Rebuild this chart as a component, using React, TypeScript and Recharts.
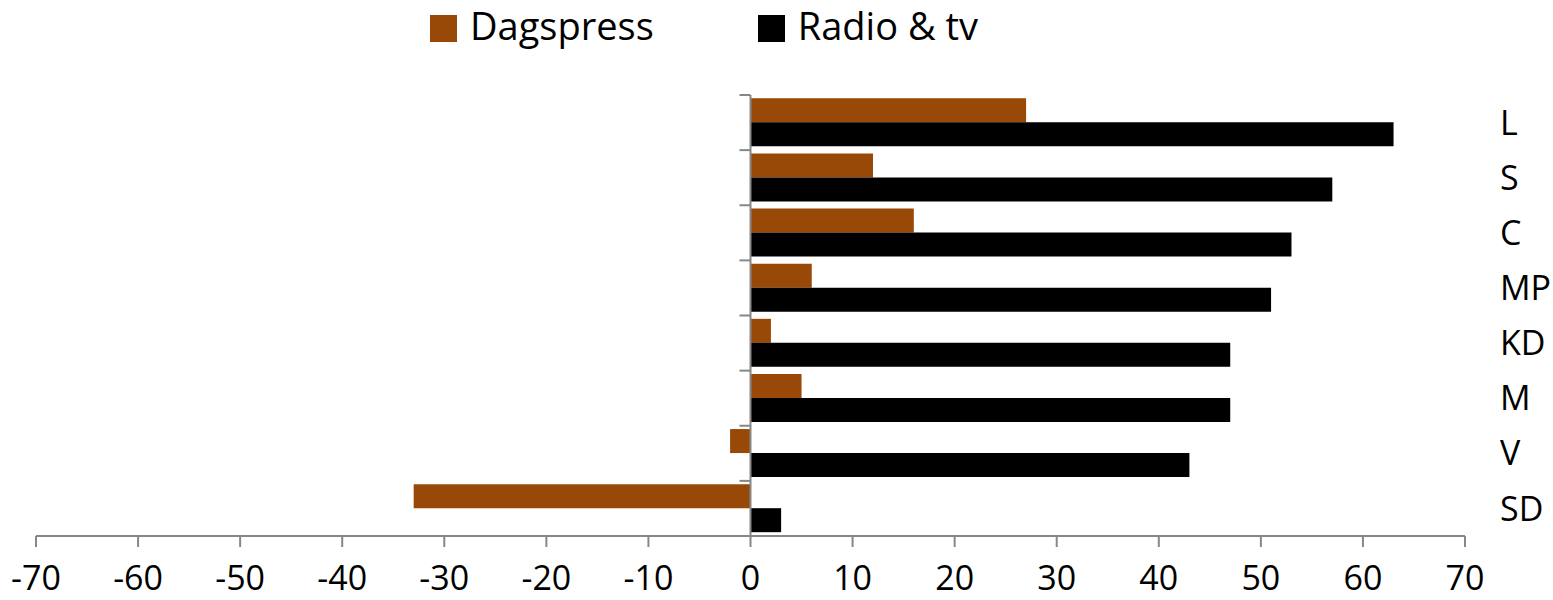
import React from 'react';
import { BarChart, Bar, XAxis, YAxis, Legend, ReferenceLine } from 'recharts';

const categories = ['L', 'S', 'C', 'MP', 'KD', 'M', 'V', 'SD'];
const dagspress = [27, 12, 16, 6, 2, 5, -2, -33];
const radioTv = [63, 57, 53, 51, 47, 47, 43, 3];
const xTicks = [-70, -60, -50, -40, -30, -20, -10, 0, 10, 20, 30, 40, 50, 60, 70];
const seriesNames = ['Dagspress', 'Radio & tv'];
const seriesColors = ['#984807', '#000000'];

const data = categories.map((name, i) => ({ name, dagspress: dagspress[i], radioTv: radioTv[i] }));

const FONT = '"Open Sans", sans-serif';
const AXIS = '#878787';

const renderLegend = (props: any) => {
  const { payload } = props;
  return (
    <div
      style={{
        height: 95,
        display: 'flex',
        alignItems: 'flex-start',
        paddingLeft: 430,
        paddingTop: 15,
        boxSizing: 'border-box',
        fontFamily: FONT,
      }}
    >
      {(payload || []).map((p: any, i: number) => (
        <div key={i} style={{ display: 'flex', alignItems: 'center', height: 27, marginRight: 104 }}>
          <span style={{ width: 27, height: 27, background: p.color, display: 'inline-block', marginRight: 13 }} />
          <span style={{ fontSize: 38, color: '#000', lineHeight: '27px', position: 'relative', top: -3, whiteSpace: 'nowrap' }}>
            {p.value}
          </span>
        </div>
      ))}
    </div>
  );
};

export default function App() {
  return (
    <div style={{ position: 'absolute', left: 0, top: 0 }}>
      <BarChart
        width={1553}
        height={600}
        data={data}
        layout="vertical"
        margin={{ top: 0, right: 0, bottom: 0, left: 36 }}
        barCategoryGap="6%"
        barGap={0}
      >
        <XAxis
          type="number"
          domain={[-70, 70]}
          ticks={xTicks}
          interval={0}
          allowDataOverflow
          height={64}
          axisLine={{ stroke: AXIS, strokeWidth: 2 }}
          tickLine={{ stroke: AXIS, strokeWidth: 2 }}
          tickSize={11}
          tickMargin={19}
          tick={{ fill: '#000', fontSize: 34, fontFamily: FONT }}
        />
        <YAxis
          yAxisId="cat"
          type="category"
          dataKey="name"
          orientation="right"
          width={88}
          axisLine={false}
          tickLine={false}
          tickSize={0}
          tickMargin={35}
          interval={0}
          tick={{ fill: '#000', fontSize: 34, fontFamily: FONT, textAnchor: 'start' }}
        />
        <Bar yAxisId="cat" dataKey="dagspress" name={seriesNames[0]} fill={seriesColors[0]} isAnimationActive={false} />
        <Bar yAxisId="cat" dataKey="radioTv" name={seriesNames[1]} fill={seriesColors[1]} isAnimationActive={false} />
        <ReferenceLine yAxisId="cat" x={0} stroke={AXIS} strokeWidth={2} />
        {categories.map((c) => (
          <ReferenceLine
            key={c}
            yAxisId="cat"
            position="start"
            segment={[{ x: -1.08, y: c }, { x: 0, y: c }]}
            stroke={AXIS}
            strokeWidth={2}
          />
        ))}
        <ReferenceLine
          yAxisId="cat"
          position="end"
          segment={[{ x: -1.08, y: categories[categories.length - 1] }, { x: 0, y: categories[categories.length - 1] }]}
          stroke={AXIS}
          strokeWidth={2}
        />
        <Legend verticalAlign="top" content={renderLegend} wrapperStyle={{ left: 0, top: 0, width: 1553 }} />
      </BarChart>
    </div>
  );
}
